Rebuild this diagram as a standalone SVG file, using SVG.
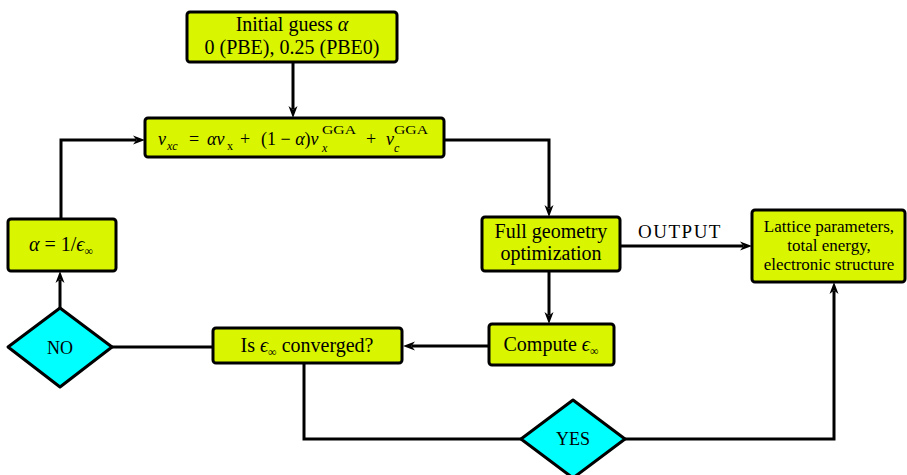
<svg xmlns="http://www.w3.org/2000/svg" width="907" height="475" viewBox="0 0 907 475">
<defs>
<marker id="arr" markerUnits="userSpaceOnUse" markerWidth="14" markerHeight="12" refX="3" refY="5" orient="auto">
<path d="M0,0.5 L12,5 L0,9.5 L3.5,5 z" fill="#000"/>
</marker>
<style>
.box{fill:#d9f500;stroke:#000;stroke-width:3}
.dia{fill:#00ffff;stroke:#000;stroke-width:3;stroke-linejoin:round}
.t{font-family:"Liberation Serif","DejaVu Serif",serif;font-size:20px;fill:#000;text-anchor:middle}
.f{font-size:18px;text-anchor:start}
.s{font-size:17px}
.i{font-style:italic}
.sm{font-size:12px}
.sp{font-size:13px}
.c{fill:none;stroke:#000;stroke-width:3}
.ca{fill:none;stroke:#000;stroke-width:3;marker-end:url(#arr)}
</style>
</defs>
<g id="connectors">
<path class="ca" d="M293,62 V109"/>
<path class="ca" d="M444,140 H549 V208"/>
<path class="ca" d="M620,246 H743"/>
<path class="ca" d="M549,271 V315"/>
<path class="ca" d="M489,346 H412"/>
<path class="c" d="M213,347 H112"/>
<path class="ca" d="M60,308 V280"/>
<path class="ca" d="M61,219 V140 H136"/>
<path class="c" d="M304,363 V439 H521"/>
<path class="ca" d="M625,439 H834 V291"/>
</g>
<g id="init">
<rect class="box" x="187" y="12" width="210" height="50" rx="3"/>
<text class="t" x="292" y="31">Initial guess <tspan class="i">α</tspan></text>
<text class="t" x="292" y="54">0 (PBE), 0.25 (PBE0)</text>
</g>
<g id="vxc">
<rect class="box" x="145" y="118" width="299" height="39" rx="3"/>
<text x="158" y="145" class="t f i">v</text>
<text x="167" y="150" class="t f i sm">xc</text>
<text x="189" y="145" class="t f">=</text>
<text x="207" y="145" class="t f i">αv</text>
<text x="227" y="150" class="t f sm">x</text>
<text x="240" y="145" class="t f">+</text>
<text x="261" y="145" class="t f">(1 − <tspan class="i">α</tspan>)<tspan class="i">v</tspan></text>
<text x="322" y="152" class="t f i sm">x</text>
<text x="322" y="134" class="t f sp" textLength="34" lengthAdjust="spacingAndGlyphs">GGA</text>
<text x="366" y="145" class="t f">+</text>
<text x="386" y="145" class="t f i">v</text>
<text x="394" y="152" class="t f i sm">c</text>
<text x="394" y="134" class="t f sp" textLength="34" lengthAdjust="spacingAndGlyphs">GGA</text>
</g>
<g id="full">
<rect class="box" x="482" y="217" width="138" height="54" rx="3"/>
<text class="t" x="551" y="238">Full geometry</text>
<text class="t" x="551" y="260">optimization</text>
</g>
<g id="lattice">
<rect class="box" x="752" y="210" width="153" height="72" rx="3"/>
<text class="t s" x="829" y="232">Lattice parameters,</text>
<text class="t s" x="829" y="251">total energy,</text>
<text class="t s" x="829" y="270">electronic structure</text>
</g>
<text class="t" x="680" y="238" style="font-size:19px;letter-spacing:1.5px">OUTPUT</text>
<g id="compute">
<rect class="box" x="489" y="324" width="125" height="41" rx="3"/>
<text class="t" x="551" y="351">Compute <tspan class="i">ϵ</tspan><tspan class="sm" dy="4">∞</tspan></text>
</g>
<g id="isconv">
<rect class="box" x="213" y="328" width="189" height="35" rx="3"/>
<text class="t" x="307" y="352">Is <tspan class="i">ϵ</tspan><tspan class="sm" dy="4">∞</tspan><tspan dy="-4"> converged?</tspan></text>
</g>
<g id="alpha">
<rect class="box" x="8" y="219" width="108" height="52" rx="3"/>
<text class="t" x="61" y="251"><tspan class="i">α</tspan> = 1/<tspan class="i">ϵ</tspan><tspan class="sm" dy="4">∞</tspan></text>
</g>
<g id="no">
<path class="dia" d="M60,308 L112,347 L60,387 L8,347 z"/>
<text class="t" x="60" y="354" style="font-size:18px">NO</text>
</g>
<g id="yes">
<path class="dia" d="M573,400 L625,439 L573,478 L521,439 z"/>
<text class="t" x="573" y="445" style="font-size:18px">YES</text>
</g>
</svg>
